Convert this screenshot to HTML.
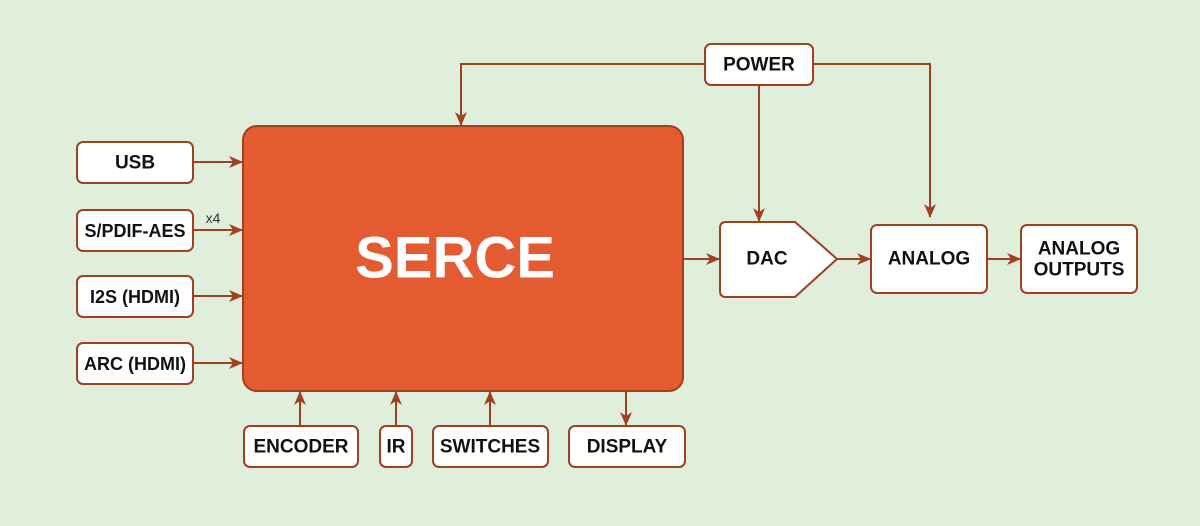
<!DOCTYPE html>
<html><head><style>
body{margin:0;background:#e0eedc}
svg{display:block}
text{font-family:"Liberation Sans",sans-serif;font-weight:bold;fill:#111;text-anchor:middle;dominant-baseline:central}
</style></head><body>
<svg width="1200" height="526" viewBox="0 0 1200 526">
<defs><marker id="a" markerWidth="14" markerHeight="12" refX="13" refY="6" orient="auto" markerUnits="userSpaceOnUse"><path d="M0,0 L14,6 L0,12 L4,6z" fill="#a0401f"/></marker></defs>
<rect width="1200" height="526" fill="#e0eedc"/>
<g stroke="#a0401f" stroke-width="2" fill="none">
<line x1="193" y1="162" x2="242" y2="162" marker-end="url(#a)"/>
<line x1="193" y1="230" x2="242" y2="230" marker-end="url(#a)"/>
<line x1="193" y1="296" x2="242" y2="296" marker-end="url(#a)"/>
<line x1="193" y1="363" x2="242" y2="363" marker-end="url(#a)"/>
<polyline points="705,64 461,64 461,125" marker-end="url(#a)"/>
<polyline points="813,64 930,64 930,217" marker-end="url(#a)"/>
<line x1="759" y1="85" x2="759" y2="221" marker-end="url(#a)"/>
<line x1="683" y1="259" x2="719" y2="259" marker-end="url(#a)"/>
<line x1="837" y1="259" x2="870" y2="259" marker-end="url(#a)"/>
<line x1="987" y1="259" x2="1020" y2="259" marker-end="url(#a)"/>
<line x1="300" y1="426" x2="300" y2="392" marker-end="url(#a)"/>
<line x1="396" y1="426" x2="396" y2="392" marker-end="url(#a)"/>
<line x1="490" y1="426" x2="490" y2="392" marker-end="url(#a)"/>
<line x1="626" y1="391" x2="626" y2="425" marker-end="url(#a)"/>
</g>
<rect x="243" y="126" width="440" height="265" rx="14" fill="#e45b32" stroke="#a0401f" stroke-width="2"/>
<text x="455" y="258" font-size="58" style="fill:#fff">SERCE</text>
<g fill="#fff" stroke="#a0401f" stroke-width="2">
<rect x="77" y="142" width="116" height="41" rx="6"/>
<rect x="77" y="210" width="116" height="41" rx="6"/>
<rect x="77" y="276" width="116" height="41" rx="6"/>
<rect x="77" y="343" width="116" height="41" rx="6"/>
<rect x="705" y="44" width="108" height="41" rx="6"/>
<path d="M726,222 L795,222 L837,259 L795,297 L726,297 Q720,297 720,291 L720,228 Q720,222 726,222z"/>
<rect x="871" y="225" width="116" height="68" rx="6"/>
<rect x="1021" y="225" width="116" height="68" rx="6"/>
<rect x="244" y="426" width="114" height="41" rx="6"/>
<rect x="380" y="426" width="32" height="41" rx="6"/>
<rect x="433" y="426" width="115" height="41" rx="6"/>
<rect x="569" y="426" width="116" height="41" rx="6"/>
</g>
<g font-size="19">
<text x="135" y="163">USB</text>
<text x="135" y="231" font-size="18">S/PDIF-AES</text>
<text x="135" y="297" font-size="18">I2S (HDMI)</text>
<text x="135" y="364" font-size="18">ARC (HDMI)</text>
<text x="759" y="65">POWER</text>
<text x="767" y="259">DAC</text>
<text x="929" y="259">ANALOG</text>
<text x="1079" y="249">ANALOG</text>
<text x="1079" y="270">OUTPUTS</text>
<text x="301" y="447">ENCODER</text>
<text x="396" y="447">IR</text>
<text x="490" y="447">SWITCHES</text>
<text x="627" y="447">DISPLAY</text>
</g>
<text x="213" y="218" font-size="14" style="font-weight:normal;fill:#333">x4</text>
</svg>
</body></html>
